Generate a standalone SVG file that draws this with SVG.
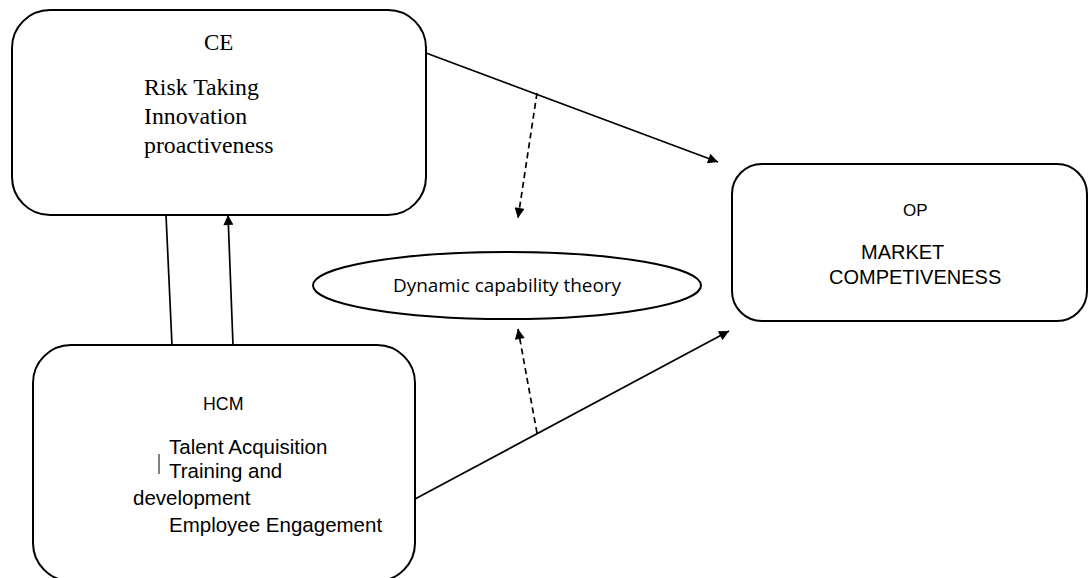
<svg xmlns="http://www.w3.org/2000/svg" width="1089" height="578" viewBox="0 0 1089 578">
<defs>
<marker id="ah" viewBox="0 0 10 10" refX="10" refY="5" markerWidth="12" markerHeight="10" markerUnits="userSpaceOnUse" orient="auto">
<path d="M0,0 L10,5 L0,10 z" fill="#000"/>
</marker>
</defs>
<style>
.box{fill:#fff;stroke:#000;stroke-width:2}
.ln{fill:none;stroke:#000;stroke-width:1.7}
.dash{fill:none;stroke:#000;stroke-width:1.7;stroke-dasharray:6,4}
.serif{font-family:"Liberation Serif","Times New Roman",serif;fill:#000}
.sans{font-family:"Liberation Sans",Arial,sans-serif;fill:#000}
.cal{font-family:"Open Sans","Noto Sans",sans-serif;fill:#000}
</style>
<rect width="1089" height="578" fill="#fff"/>
<g id="connectors">
<line class="ln" x1="426" y1="53" x2="718" y2="162" marker-end="url(#ah)"/>
<line class="ln" x1="415" y1="499" x2="729" y2="331" marker-end="url(#ah)"/>
<line class="dash" x1="537" y1="93" x2="518" y2="218" marker-end="url(#ah)"/>
<line class="dash" x1="537" y1="433" x2="518" y2="329" marker-end="url(#ah)"/>
<line class="ln" x1="166" y1="215" x2="172" y2="345"/>
<line class="ln" x1="233" y1="345" x2="228" y2="215" marker-end="url(#ah)"/>
</g>
<g id="ce">
<rect class="box" x="12" y="10" width="414" height="205" rx="38" ry="38"/>
<text class="serif" x="204" y="50" font-size="23">CE</text>
<text class="serif" x="144" y="95" font-size="23.8">Risk Taking</text>
<text class="serif" x="144" y="124" font-size="23.8">Innovation</text>
<text class="serif" x="144" y="153" font-size="23.8">proactiveness</text>
</g>
<g id="hcm">
<rect class="box" x="33" y="345" width="382" height="236" rx="38" ry="38"/>
<text class="sans" x="203" y="410" font-size="17.8">HCM</text>
<line x1="159" y1="454" x2="159" y2="474" stroke="#000" stroke-width="1"/>
<text class="sans" x="169" y="454" font-size="20.5">Talent Acquisition</text>
<text class="sans" x="169" y="478" font-size="20.5">Training and</text>
<text class="sans" x="133" y="505" font-size="20.5">development</text>
<text class="sans" x="169" y="532" font-size="20.5">Employee Engagement</text>
</g>
<g id="dct">
<ellipse class="box" cx="507" cy="285.5" rx="194" ry="33.5"/>
<text class="cal" x="393" y="292" font-size="18.5" textLength="228" lengthAdjust="spacingAndGlyphs">Dynamic capability theory</text>
</g>
<g id="op">
<rect class="box" x="732" y="164" width="355" height="157" rx="30" ry="30"/>
<text class="sans" x="903" y="216" font-size="17">OP</text>
<text class="sans" x="861" y="259" font-size="20">MARKET</text>
<text class="sans" x="829" y="284" font-size="20">COMPETIVENESS</text>
</g>
</svg>
